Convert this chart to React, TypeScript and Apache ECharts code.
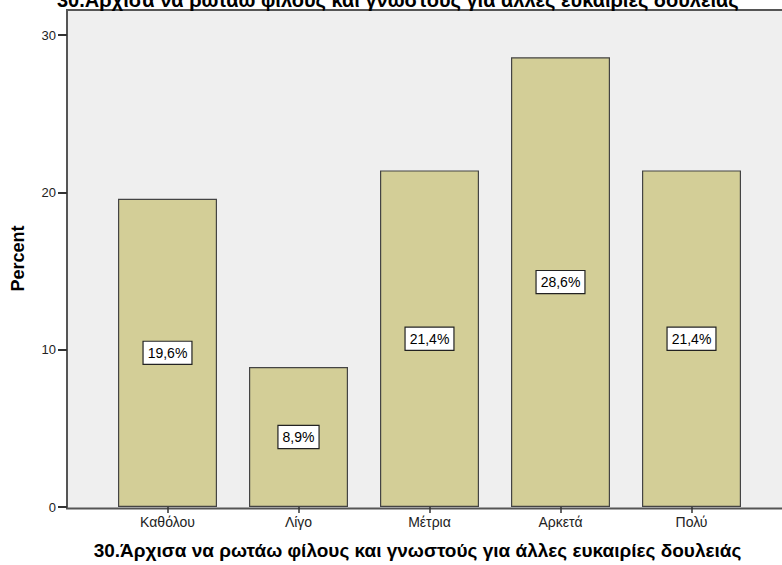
import React, { useEffect, useRef } from "react";
import * as echarts from "echarts";

const categories = ["Καθόλου", "Λίγο", "Μέτρια", "Αρκετά", "Πολύ"];
const percents = [19.6, 8.9, 21.4, 28.6, 21.4];
const yTicks = [0, 10, 20, 30];
const titleText = "30.Άρχισα να ρωτάω φίλους και γνωστούς για άλλες ευκαιρίες δουλειάς";
const yName = "Percent";

const FONT = "'Liberation Sans', Arial, sans-serif";

export default function App() {
  const ref = useRef<HTMLDivElement>(null);
  useEffect(() => {
    if (!ref.current) return;
    const chart = echarts.init(ref.current, undefined, { renderer: "svg" });
    chart.setOption({
      animation: false,
      textStyle: { fontFamily: FONT },
      title: {
        text: titleText,
        left: 52,
        top: -15,
        textStyle: { fontFamily: FONT, fontSize: 20, fontWeight: "bold", color: "#000" },
      },
      graphic: [
        {
          type: "rect",
          z: -10,
          silent: true,
          shape: { x: 67, y: 10, width: 730, height: 498.5 },
          style: { fill: "#efefef", stroke: "#555", lineWidth: 2 },
        },
      ],
      grid: { left: 102, right: 25, top: 10, bottom: 56.5 },
      xAxis: {
        type: "category",
        data: categories,
        name: titleText,
        nameLocation: "middle",
        nameGap: 34,
        nameTextStyle: {
          fontFamily: FONT,
          fontSize: 19,
          fontWeight: "bold",
          color: "#000",
          padding: [0, 24, 0, 0],
        },
        axisLine: { show: false },
        axisTick: { show: true, alignWithLabel: true, length: 6, lineStyle: { color: "#333", width: 1.5 } },
        axisLabel: { fontFamily: FONT, fontSize: 14, color: "#222", margin: 8 },
      },
      yAxis: {
        type: "value",
        min: 0,
        max: 31.6,
        offset: 35,
        name: yName,
        nameLocation: "middle",
        nameGap: 40,
        nameTextStyle: { fontFamily: FONT, fontSize: 18, fontWeight: "bold", color: "#000" },
        splitLine: { show: false },
        axisLine: { show: false },
        axisTick: { show: true, length: 9, customValues: yTicks, lineStyle: { color: "#333", width: 2 } },
        axisLabel: { fontFamily: FONT, fontSize: 13, color: "#222", margin: 11, customValues: yTicks },
      },
      series: [
        {
          type: "bar",
          data: percents,
          barWidth: 99,
          itemStyle: { color: "#d3ce97", borderColor: "#444", borderWidth: 1.2 },
          label: {
            show: true,
            position: "inside",
            formatter: (p: any) => p.value.toFixed(1).replace(".", ",") + "%",
            fontFamily: FONT,
            fontSize: 14,
            lineHeight: 15,
            color: "#000",
            backgroundColor: "#fff",
            borderColor: "#222",
            borderWidth: 1.2,
            padding: [4, 4, 3, 4],
          },
        },
      ],
    });
    return () => chart.dispose();
  }, []);
  return <div ref={ref} style={{ width: 782, height: 565, position: "absolute", left: 0, top: 0 }} />;
}
